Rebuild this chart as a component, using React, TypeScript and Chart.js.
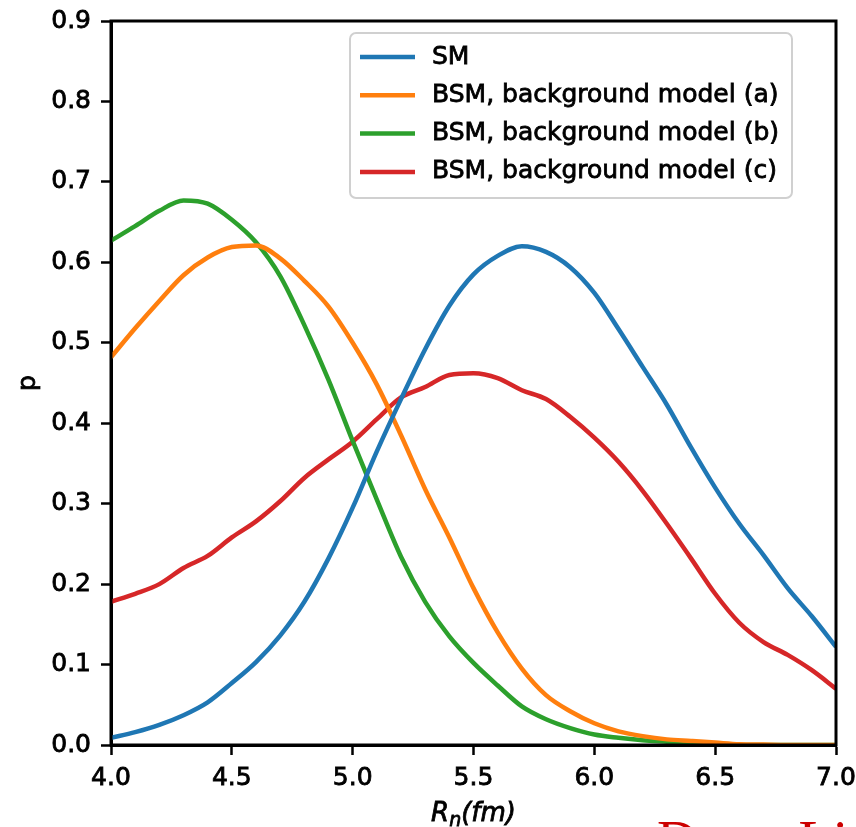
import React, { useEffect, useRef } from "react";
import { Chart, registerables } from "chart.js";

Chart.register(...registerables);

const xValues = [
  4.0, 4.1, 4.2, 4.3, 4.4, 4.5, 4.6, 4.7, 4.8, 4.9,
  5.0, 5.1, 5.2, 5.3, 5.4, 5.5, 5.6, 5.7, 5.8, 5.9,
  6.0, 6.1, 6.2, 6.3, 6.4, 6.5, 6.6, 6.7, 6.8, 6.9, 7.0,
];

const smValues = [
  0.009, 0.016, 0.025, 0.037, 0.053, 0.077, 0.103, 0.136, 0.178, 0.232,
  0.295, 0.365, 0.43, 0.492, 0.546, 0.585, 0.608, 0.62, 0.613, 0.594,
  0.562, 0.517, 0.47, 0.423, 0.37, 0.32, 0.275, 0.236, 0.195, 0.16, 0.122,
];

const bsmAValues = [
  0.482, 0.518, 0.552, 0.584, 0.606, 0.619, 0.621, 0.605, 0.577, 0.545,
  0.5, 0.448, 0.385, 0.318, 0.258, 0.195, 0.14, 0.095, 0.062, 0.042,
  0.027, 0.017, 0.011, 0.007, 0.005, 0.003, 0.001, 0.0005, 0.0, 0.0, 0.0,
];

const bsmBValues = [
  0.627, 0.645, 0.664, 0.677, 0.673, 0.653, 0.625, 0.583, 0.522, 0.454,
  0.378, 0.305, 0.234, 0.178, 0.135, 0.102, 0.074, 0.048, 0.032, 0.021,
  0.013, 0.009, 0.006, 0.004, 0.002, 0.001, 0.0, 0.0, 0.0, 0.0, 0.0,
];

const bsmCValues = [
  0.178, 0.188, 0.2, 0.22, 0.235, 0.258, 0.278, 0.303, 0.332, 0.355,
  0.377, 0.405, 0.432, 0.445, 0.46, 0.462, 0.456, 0.441, 0.43, 0.408,
  0.382, 0.352, 0.316, 0.275, 0.232, 0.188, 0.152, 0.128, 0.112, 0.093, 0.07,
];

const seriesLabels = [
  "SM",
  "BSM, background model (a)",
  "BSM, background model (b)",
  "BSM, background model (c)",
];
const seriesColors = ["#1f77b4", "#ff7f0e", "#2ca02c", "#d62728"];
const seriesValues = [smValues, bsmAValues, bsmBValues, bsmCValues];

const xTitleMain = "R";
const xTitleSub = "n";
const xTitleRest = "(fm)";
const yTitle = "p";
const overlayText = "Dotto Li";

const FONT = '"DejaVu Sans", sans-serif';

function heavyText(ctx: CanvasRenderingContext2D, t: string, x: number, y: number) {
  ctx.lineWidth = 0.8;
  ctx.strokeStyle = ctx.fillStyle as string;
  ctx.strokeText(t, x, y);
  ctx.fillText(t, x, y);
}

const decorPlugin = {
  id: "decor",
  afterDatasetsDraw(chart: any) {
    const { ctx, chartArea } = chart;
    const { left, right, top, bottom } = chartArea;
    ctx.save();
    // spines
    ctx.strokeStyle = "#000";
    ctx.lineWidth = 3;
    ctx.lineJoin = "miter";
    ctx.strokeRect(left, top, right - left, bottom - top);

    // legend
    const bx = right - 486;
    const by = top + 12;
    const bw = 442;
    const bh = 165;
    ctx.beginPath();
    (ctx as any).roundRect(bx, by, bw, bh, 6);
    ctx.fillStyle = "rgba(255,255,255,0.85)";
    ctx.fill();
    ctx.strokeStyle = "#d0d0d0";
    ctx.lineWidth = 2;
    ctx.stroke();
    ctx.font = `25px ${FONT}`;
    ctx.textBaseline = "middle";
    ctx.textAlign = "left";
    for (let i = 0; i < seriesLabels.length; i++) {
      const yy = by + 24 + i * 38.3;
      ctx.beginPath();
      ctx.moveTo(bx + 10, yy);
      ctx.lineTo(bx + 65, yy);
      ctx.strokeStyle = seriesColors[i];
      ctx.lineWidth = 4.5;
      ctx.stroke();
      ctx.fillStyle = "#000";
      heavyText(ctx, seriesLabels[i], bx + 82, yy);
    }

    // y title
    ctx.save();
    ctx.translate(28, (top + bottom) / 2);
    ctx.rotate(-Math.PI / 2);
    ctx.textAlign = "center";
    ctx.textBaseline = "middle";
    ctx.font = `25px ${FONT}`;
    ctx.fillStyle = "#000";
    heavyText(ctx, yTitle, 0, 0);
    ctx.restore();

    // x title
    const mainFont = `italic 26px ${FONT}`;
    const subFont = `italic 19px ${FONT}`;
    ctx.font = mainFont;
    const w1 = ctx.measureText(xTitleMain).width;
    const w3 = ctx.measureText(xTitleRest).width;
    ctx.font = subFont;
    const w2 = ctx.measureText(xTitleSub).width;
    const total = w1 + w2 + w3;
    let sx = (left + right) / 2 - total / 2;
    const base = 821;
    ctx.textBaseline = "alphabetic";
    ctx.fillStyle = "#000";
    ctx.font = mainFont;
    heavyText(ctx, xTitleMain, sx, base);
    sx += w1;
    ctx.font = subFont;
    heavyText(ctx, xTitleSub, sx, base + 5);
    sx += w2;
    ctx.font = mainFont;
    heavyText(ctx, xTitleRest, sx, base);

    // overlay red text
    ctx.font = '56px "Liberation Serif", serif';
    ctx.fillStyle = "#cc0000";
    ctx.fillText(overlayText, 657, 860);
    ctx.restore();
  },
};

export default function App() {
  const canvasRef = useRef<HTMLCanvasElement | null>(null);

  useEffect(() => {
    document.body.style.margin = "0";
    const canvas = canvasRef.current;
    if (!canvas) return;
    const datasets = seriesValues.map((vals, i) => ({
      label: seriesLabels[i],
      data: xValues.map((x, j) => ({ x, y: vals[j] })),
      borderColor: seriesColors[i],
      backgroundColor: seriesColors[i],
      borderWidth: 4.5,
      pointRadius: 0,
      fill: false,
      cubicInterpolationMode: "monotone" as const,
    }));
    const zeroPad = (s: any) => {
      s.paddingLeft = 0;
      s.paddingRight = 0;
      s.paddingTop = 0;
      s.paddingBottom = 0;
    };
    const chart = new Chart(canvas, {
      type: "line",
      data: { datasets },
      options: {
        animation: false,
        responsive: false,
        devicePixelRatio: 1,
        layout: { padding: { left: 0, top: 21, right: 20, bottom: 0 } },
        plugins: {
          legend: { display: false },
          tooltip: { enabled: false },
        },
        scales: {
          x: {
            type: "linear",
            min: 4,
            max: 7,
            afterFit: (s: any) => {
              s.height = 82;
              zeroPad(s);
            },
            ticks: {
              stepSize: 0.5,
              color: "#000",
              font: { family: FONT, size: 25 },
              padding: 8,
              maxRotation: 0,
              textStrokeColor: "#000",
              textStrokeWidth: 0.8,
              callback: (v: any) => Number(v).toFixed(1),
            },
            grid: {
              display: true,
              drawOnChartArea: false,
              drawTicks: true,
              tickLength: 10,
              tickWidth: 2.5,
              tickColor: "#000",
            },
            border: { display: true, color: "#000", width: 3 },
          },
          y: {
            type: "linear",
            min: 0,
            max: 0.9,
            afterFit: (s: any) => {
              s.width = 111;
              zeroPad(s);
            },
            ticks: {
              stepSize: 0.1,
              color: "#000",
              font: { family: FONT, size: 25 },
              padding: 10,
              textStrokeColor: "#000",
              textStrokeWidth: 0.8,
              callback: (v: any) => Number(v).toFixed(1),
            },
            grid: {
              display: true,
              drawOnChartArea: false,
              drawTicks: true,
              tickLength: 10,
              tickWidth: 2.5,
              tickColor: "#000",
            },
            border: { display: true, color: "#000", width: 3 },
          },
        },
      },
      plugins: [decorPlugin],
    });
    return () => chart.destroy();
  }, []);

  return (
    <div style={{ width: 856, height: 827, position: "relative", background: "#fff" }}>
      <canvas ref={canvasRef} width={856} height={827} style={{ width: 856, height: 827, display: "block" }} />
    </div>
  );
}
